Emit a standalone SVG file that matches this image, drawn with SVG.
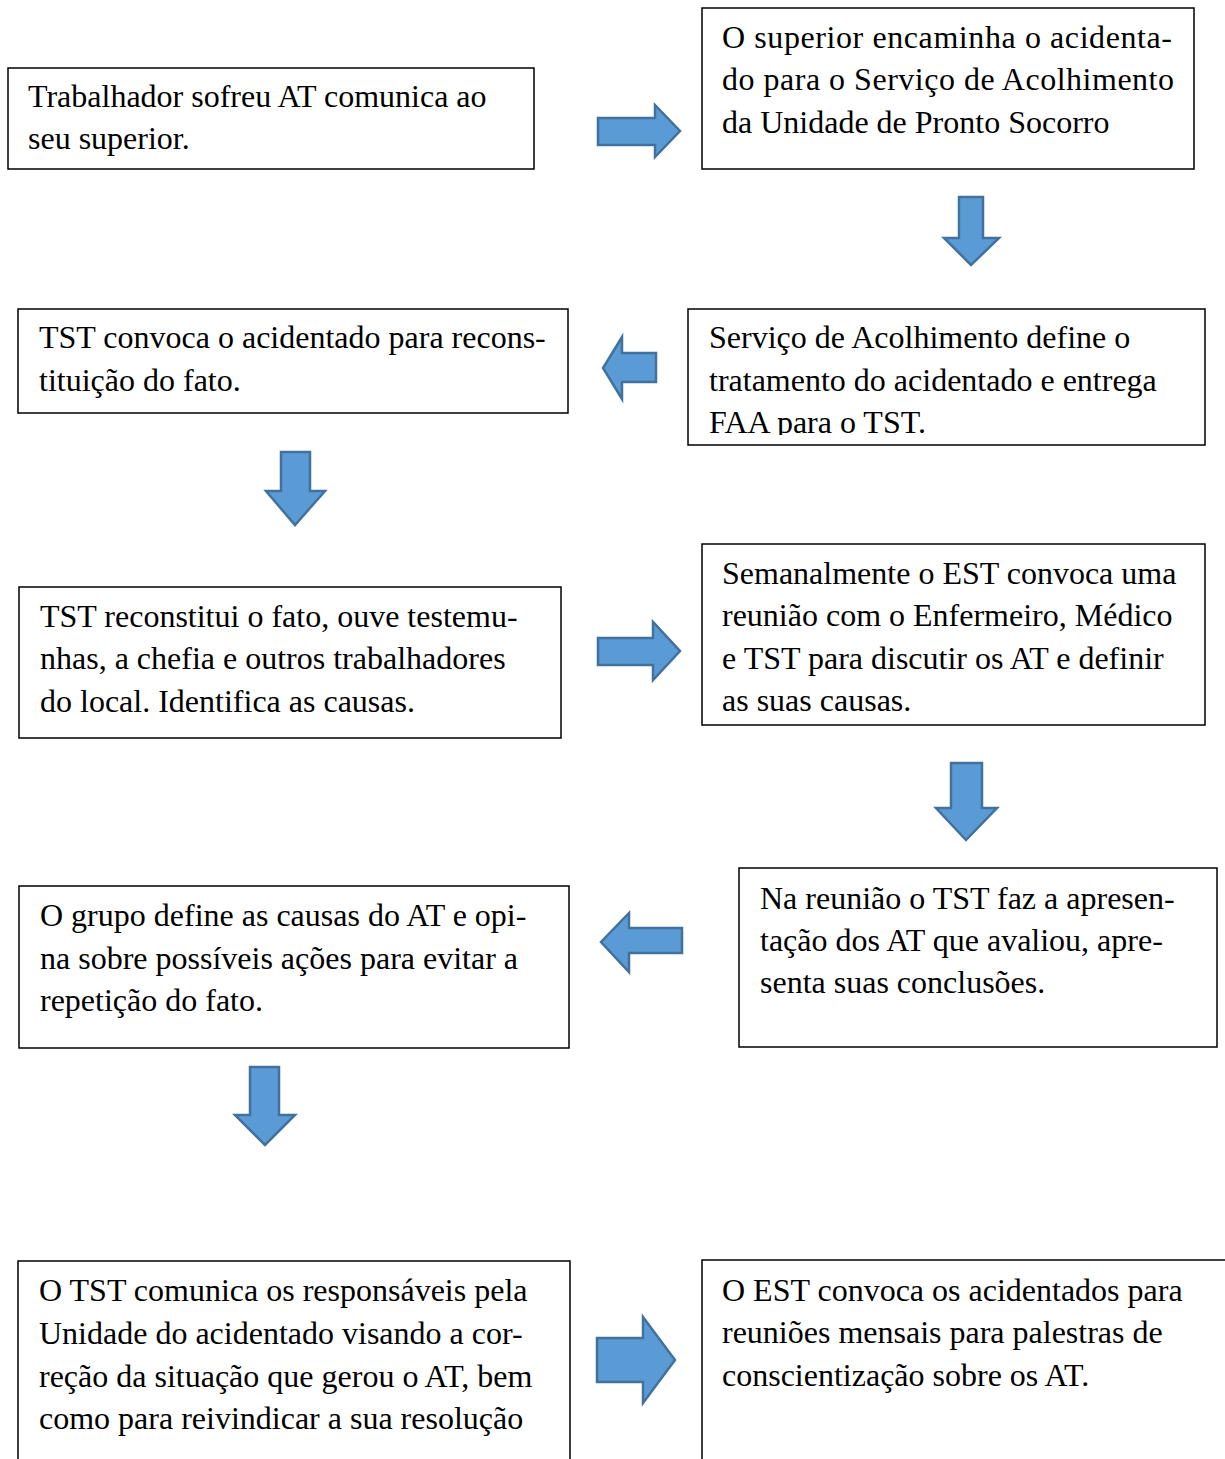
<svg xmlns="http://www.w3.org/2000/svg" width="1225" height="1459" viewBox="0 0 1225 1459">
<style>
.box{fill:#fff;stroke:#000;stroke-width:1.5}
.t{font-family:"Liberation Serif","Times New Roman",serif;font-size:32px;fill:#000}
.arr{fill:#5b9bd5;stroke:#41719c;stroke-width:2.5;stroke-linejoin:miter}
</style>
<defs>
<clipPath id="c4"><rect x="688" y="309" width="518" height="126"/></clipPath>
</defs>
<rect width="1225" height="1459" fill="#fff"/>
<g id="n1"><rect class="box" x="8" y="68" width="526" height="101"/>
<text class="t" x="28" y="107">Trabalhador sofreu AT comunica ao</text>
<text class="t" x="28" y="149">seu superior.</text></g>
<g id="n2"><rect class="box" x="702" y="8" width="492" height="161"/>
<text class="t" x="722" y="48" textLength="450" lengthAdjust="spacing">O superior encaminha o acidenta-</text>
<text class="t" x="722" y="90" textLength="452" lengthAdjust="spacing">do para o Serviço de Acolhimento</text>
<text class="t" x="722" y="133">da Unidade de Pronto Socorro</text></g>
<g id="n3"><rect class="box" x="18" y="309" width="550" height="104"/>
<text class="t" x="39" y="348">TST convoca o acidentado para recons-</text>
<text class="t" x="39" y="391">tituição do fato.</text></g>
<g id="n4"><rect class="box" x="688" y="309" width="517" height="136"/>
<g clip-path="url(#c4)">
<text class="t" x="709" y="348">Serviço de Acolhimento define o</text>
<text class="t" x="709" y="391">tratamento do acidentado e entrega</text>
<text class="t" x="709" y="433">FAA para o TST.</text></g></g>
<g id="n5"><rect class="box" x="19" y="587" width="542" height="151"/>
<text class="t" x="40" y="627">TST reconstitui o fato, ouve testemu-</text>
<text class="t" x="40" y="669">nhas, a chefia e outros trabalhadores</text>
<text class="t" x="40" y="712">do local. Identifica as causas.</text></g>
<g id="n6"><rect class="box" x="702" y="544" width="503" height="181"/>
<text class="t" x="722" y="584">Semanalmente o EST convoca uma</text>
<text class="t" x="722" y="626">reunião com o Enfermeiro, Médico</text>
<text class="t" x="722" y="669">e TST para discutir os AT e definir</text>
<text class="t" x="722" y="711">as suas causas.</text></g>
<g id="n7"><rect class="box" x="19" y="886" width="550" height="162"/>
<text class="t" x="40" y="926">O grupo define as causas do AT e opi-</text>
<text class="t" x="40" y="969">na sobre possíveis ações para evitar a</text>
<text class="t" x="40" y="1011">repetição do fato.</text></g>
<g id="n8"><rect class="box" x="739" y="868" width="478" height="179"/>
<text class="t" x="760" y="909">Na reunião o TST faz a apresen-</text>
<text class="t" x="760" y="951">tação dos AT que avaliou, apre-</text>
<text class="t" x="760" y="993">senta suas conclusões.</text></g>
<g id="n9"><rect class="box" x="18" y="1261" width="552" height="210"/>
<text class="t" x="39" y="1301">O TST comunica os responsáveis pela</text>
<text class="t" x="39" y="1344">Unidade do acidentado visando a cor-</text>
<text class="t" x="39" y="1387">reção da situação que gerou o AT, bem</text>
<text class="t" x="39" y="1429">como para reivindicar a sua resolução</text></g>
<g id="n10"><rect class="box" x="702" y="1260" width="540" height="210"/>
<text class="t" x="722" y="1301">O EST convoca os acidentados para</text>
<text class="t" x="722" y="1343">reuniões mensais para palestras de</text>
<text class="t" x="722" y="1386">conscientização sobre os AT.</text></g>
<g id="connectors">
<polygon class="arr" points="598,118 655,118 655,105 680,131 655,157 655,145 598,145"/>
<polygon class="arr" points="959,197 983,197 983,238 999,238 971,265 944,238 959,238"/>
<polygon class="arr" points="656,353 622,353 622,337 603,368 622,399 622,382 656,382"/>
<polygon class="arr" points="281,452 310,452 310,491 325,491 295,525 266,491 281,491"/>
<polygon class="arr" points="598,638 653,638 653,622 680,651 653,680 653,665 598,665"/>
<polygon class="arr" points="951,763 982,763 982,808 997,808 966,840 936,808 951,808"/>
<polygon class="arr" points="682,928 629,928 629,913 601,942 629,972 629,953 682,953"/>
<polygon class="arr" points="250,1067 279,1067 279,1115 295,1115 265,1145 235,1115 250,1115"/>
<polygon class="arr" points="597,1338 643,1338 643,1317 675,1360 643,1403 643,1382 597,1382"/>
</g>
</svg>
